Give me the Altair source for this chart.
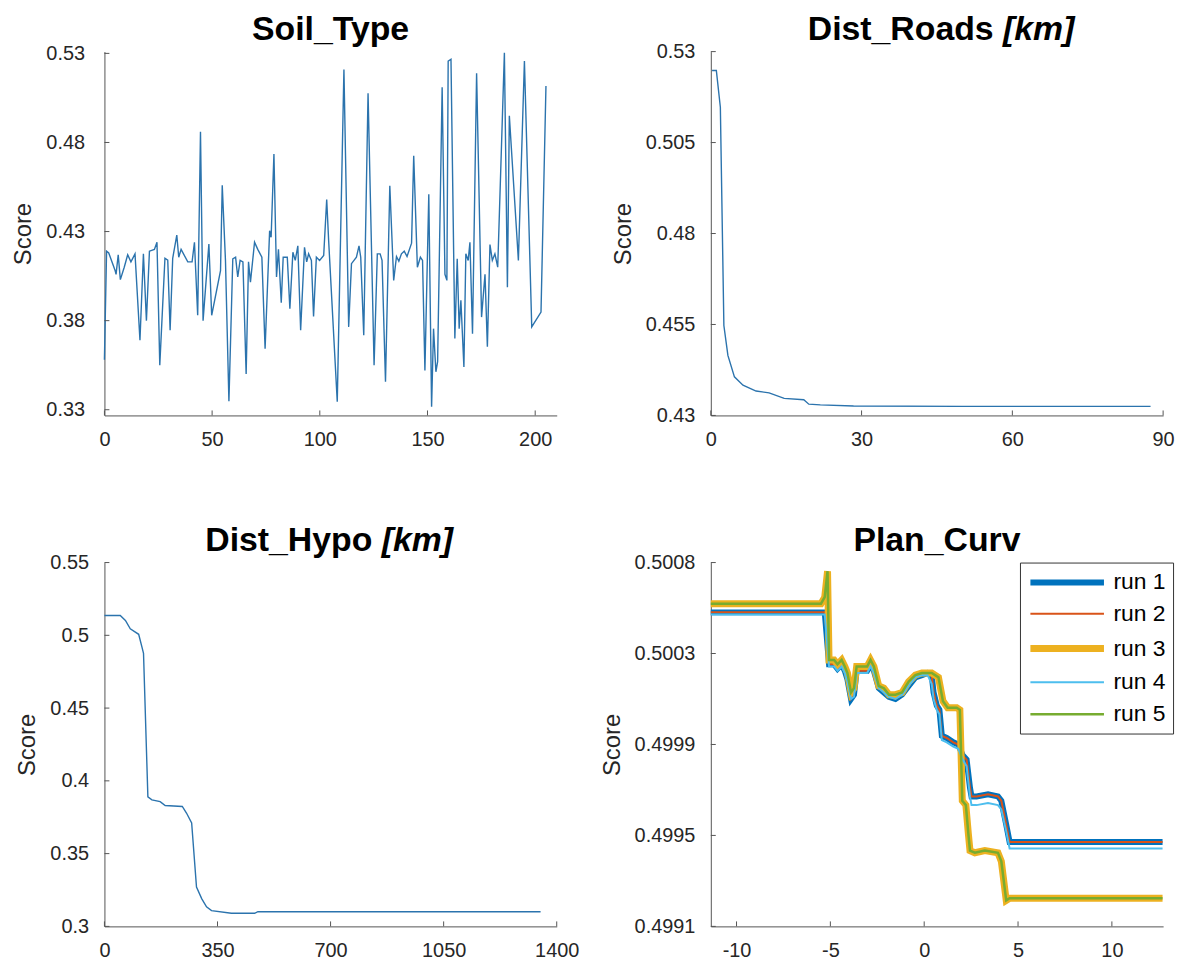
import altair as alt
import pandas as pd

FONT = "Liberation Sans"
W, H = 455, 366
LINE_C = "#2b73ad"
AX_C = "#555555"
TXT_C = "#262626"
TFS = 34  # title font size

# ---------------- Soil_Type ----------------
soil_x = [0, 1, 2, 5, 5.4, 6.4, 7.4, 9.2, 10.8, 12.3, 14.2, 16.5, 18.1, 19.5, 20.9, 23.2, 24.4, 25.7, 28.1, 29.4,
          30.5, 31.7, 33.6, 34.5, 35.6, 38.7, 40.7, 41.8, 43.3, 44.6, 45.8, 48.5, 49.8, 53.9, 54.7, 56.2, 57.8, 59.6, 60.9, 61.9,
          63.0, 64.3, 65.8, 66.9, 67.8, 69.7, 71.2, 73.1, 74.6, 76.7, 77.4, 78.7, 79.9, 80.8, 82.1, 83.0, 84.9, 86.1, 87.5, 88.6,
          89.8, 91.1, 92.9, 93.9, 94.8, 96.1, 97.1, 98.4, 99.9, 101.8, 103.2, 104.1, 108.1, 111.2, 113.4, 114.7, 117.0, 118.2, 119.0, 120.4,
          122.4, 125.2, 126.7, 128.0, 128.9, 130.5, 132.5, 134.3, 135.6, 136.7, 137.9, 139.2, 140.5, 142.6, 143.6, 145.3, 146.7, 147.7, 148.8, 150.6,
          151.9, 152.8, 153.9, 154.7, 156.8, 158.1, 159.0, 159.6, 160.9, 162.7, 163.8, 164.7, 165.5, 166.9, 167.8, 168.9, 169.7, 170.9, 172.8, 175.1,
          176.7, 177.8, 179.0, 180.1, 181.3, 182.6, 185.7, 187.1, 188.0, 192.2, 195.0, 198.4, 202.7, 205.0]
soil_y = [0.358, 0.419, 0.418, 0.408, 0.406, 0.417, 0.403, 0.410, 0.417, 0.413, 0.4175, 0.369, 0.4175, 0.380, 0.419, 0.420, 0.424, 0.355, 0.415, 0.414,
          0.3746, 0.415, 0.428, 0.4156, 0.420, 0.413, 0.413, 0.424, 0.383, 0.486, 0.380, 0.423, 0.383, 0.408, 0.456, 0.4138, 0.3348, 0.4147, 0.4156, 0.4045,
          0.4138, 0.413, 0.350, 0.413, 0.4016, 0.424, 0.420, 0.4156, 0.3643, 0.4305, 0.4268, 0.4735, 0.4045, 0.420, 0.390, 0.4156, 0.4156, 0.3867, 0.4184, 0.4138,
          0.422, 0.3746, 0.4212, 0.413, 0.4175, 0.4138, 0.3824, 0.4156, 0.4138, 0.4166, 0.448, 0.425, 0.3345, 0.521, 0.3765, 0.412, 0.4156, 0.422, 0.4156, 0.3718,
          0.5076, 0.355, 0.4175, 0.4175, 0.4138, 0.3457, 0.4557, 0.4026, 0.416, 0.4134, 0.4175, 0.419, 0.416, 0.4235, 0.4725, 0.410, 0.4156, 0.4138, 0.352, 0.451,
          0.3317, 0.3755, 0.3513, 0.357, 0.511, 0.406, 0.4026, 0.5257, 0.5267, 0.370, 0.4147, 0.3755, 0.3914, 0.354, 0.4175, 0.4138, 0.424, 0.3727, 0.5188, 0.382,
          0.406, 0.3653, 0.4227, 0.4138, 0.4175, 0.410, 0.5304, 0.3988, 0.495, 0.4138, 0.5257, 0.3765, 0.3848, 0.5117]
soil_xticks = [0, 50, 100, 150, 200]
soil_yticks = [0.33, 0.38, 0.43, 0.48, 0.53]

# ---------------- Dist_Roads ----------------
roads_x = [0.25, 1.1, 1.9, 2.6, 3.4, 4.7, 6.4, 9.0, 11.6, 14.6, 18.5, 19.5, 21.8, 28.4, 50, 87.5]
roads_y = [0.5248, 0.5248, 0.5147, 0.4547, 0.4465, 0.4406, 0.4383, 0.4367, 0.4362, 0.4347, 0.4343, 0.4331, 0.4329, 0.4326, 0.4325, 0.4325]
roads_xticks = [0, 30, 60, 90]
roads_yticks = [0.43, 0.455, 0.48, 0.505, 0.53]

# ---------------- Dist_Hypo ----------------
hypo_x = [0, 49, 65, 80, 106, 116, 121, 134.5, 147, 172.5, 188, 241, 254, 270, 285, 301, 316, 331.5, 393, 465, 475, 670, 1350]
hypo_y = [0.5136, 0.5136, 0.5102, 0.5045, 0.5007, 0.4921, 0.4876, 0.389, 0.3869, 0.3857, 0.3831, 0.3824, 0.3779, 0.3711,
          0.327, 0.3191, 0.3135, 0.3108, 0.309, 0.309, 0.3101, 0.3101, 0.3101]
hypo_xticks = [0, 350, 700, 1050, 1400]
hypo_yticks = [0.3, 0.35, 0.4, 0.45, 0.5, 0.55]

# ---------------- Plan_Curv ----------------
curv_xA = [-11.37, -5.5, -5.3, -5.07, -4.8, -4.62, -4.4, -4.23, -4.09, -3.9, -3.74, -3.6, -3.39, -3.04, -2.86, -2.68,
           -2.42, -2.15, -1.88, -1.53, -1.18, -0.83, -0.47, -0.12, 0.18, 0.4, 0.5, 0.67, 0.81, 0.94, 1.2, 1.55, 1.82,
           2.05, 2.26, 2.44, 2.52, 2.79, 3.4, 3.93, 4.11, 4.37, 4.55, 4.73, 12.7]
run1_y = [0.50053, 0.50053, 0.50053, 0.50029, 0.50029, 0.50027, 0.50029, 0.50026, 0.50022, 0.50013, 0.50015, 0.50026, 0.50026,
          0.50026, 0.50029, 0.50026, 0.50018, 0.50016, 0.50014, 0.50013, 0.50015, 0.50019, 0.50023, 0.50024, 0.50025, 0.50024,
          0.50016, 0.50010, 0.50008, 0.49996, 0.49995, 0.49993, 0.49992, 0.49987, 0.49985, 0.49972, 0.49968, 0.49968, 0.49969,
          0.49968, 0.49966, 0.49955, 0.49947, 0.49947, 0.49947]
run2_y = [0.50053, 0.50053, 0.50053, 0.50029, 0.50029, 0.50027, 0.50029, 0.50026, 0.50022, 0.50013, 0.50015, 0.50026, 0.50026,
          0.50026, 0.50029, 0.50026, 0.50018, 0.50016, 0.50014, 0.50013, 0.50015, 0.50019, 0.50023, 0.50024, 0.50025, 0.50024,
          0.50016, 0.50010, 0.50008, 0.49996, 0.49995, 0.49993, 0.49992, 0.49987, 0.49985, 0.49972, 0.49968, 0.49968, 0.49969,
          0.49968, 0.49966, 0.49955, 0.49947, 0.49947, 0.49947]
run4_y = [0.50052, 0.50052, 0.50052, 0.50028, 0.50028, 0.50026, 0.50028, 0.50025, 0.50021, 0.50013, 0.50014, 0.50025, 0.50025,
          0.50025, 0.50028, 0.50025, 0.50018, 0.50016, 0.50014, 0.50013, 0.50015, 0.50019, 0.50023, 0.50024, 0.50024, 0.50020,
          0.50013, 0.50008, 0.50006, 0.49994, 0.49993, 0.49991, 0.49990, 0.49985, 0.49982, 0.49968, 0.49964, 0.49964, 0.49965,
          0.49964, 0.49962, 0.49952, 0.49944, 0.49944, 0.49944]
curv_xB = [-11.37, -5.5, -5.3, -5.15, -5.07, -4.8, -4.62, -4.4, -4.23, -4.09, -3.9, -3.74, -3.6, -3.39, -3.04, -2.86, -2.68,
           -2.42, -2.15, -1.88, -1.53, -1.18, -0.83, -0.47, -0.12, 0.18, 0.4, 0.76, 1.0, 1.25, 1.73, 1.9, 1.96, 2.03, 2.22,
           2.35, 2.44, 2.7, 3.23, 3.93, 4.11, 4.37, 4.55, 12.7]
run3_y = [0.50057, 0.50057, 0.50060, 0.50072, 0.50031, 0.50031, 0.50029, 0.50031, 0.50028, 0.50025, 0.50016, 0.50018, 0.50028,
          0.50028, 0.50028, 0.50031, 0.50028, 0.50019, 0.50018, 0.50015, 0.50015, 0.50016, 0.50021, 0.50024, 0.50025, 0.50025,
          0.50025, 0.50023, 0.50012, 0.50009, 0.50009, 0.50008, 0.49989, 0.49966, 0.49964, 0.49951, 0.49943, 0.49942, 0.49943,
          0.49942, 0.49938, 0.49920, 0.49921, 0.49921]
run5_y = [0.50057, 0.50057, 0.50060, 0.50072, 0.50031, 0.50031, 0.50029, 0.50031, 0.50028, 0.50025, 0.50016, 0.50018, 0.50028,
          0.50028, 0.50028, 0.50031, 0.50028, 0.50019, 0.50018, 0.50015, 0.50015, 0.50016, 0.50021, 0.50024, 0.50025, 0.50025,
          0.50025, 0.50023, 0.50012, 0.50009, 0.50009, 0.50008, 0.49989, 0.49966, 0.49964, 0.49951, 0.49943, 0.49942, 0.49943,
          0.49942, 0.49938, 0.49920, 0.49921, 0.49921]
curv_xticks = [-10, -5, 0, 5, 10]
curv_yticks = [0.49908, 0.4995, 0.49992, 0.50034, 0.50076]
run_names = ["run 1", "run 2", "run 3", "run 4", "run 5"]
run_colors = ["#0072BD", "#D95319", "#EDB120", "#4DBEEE", "#77AC30"]
run_widths = [6, 2, 7, 2, 2.5]


def title_layers(parts):
    if len(parts) == 1:
        t = alt.Chart(pd.DataFrame({"t": [parts[0]]})).mark_text(
            font=FONT, fontSize=TFS, fontWeight="bold", color="black", align="center", baseline="alphabetic"
        ).encode(text="t:N", x=alt.value(W / 2), y=alt.value(-12))
        return [t]
    main, unit, off = parts
    t1 = alt.Chart(pd.DataFrame({"t": [main]})).mark_text(
        font=FONT, fontSize=TFS, fontWeight="bold", color="black", align="right", baseline="alphabetic"
    ).encode(text="t:N", x=alt.value(W / 2 + off), y=alt.value(-12))
    t2 = alt.Chart(pd.DataFrame({"t": [unit]})).mark_text(
        font=FONT, fontSize=TFS, fontWeight="bold", fontStyle="italic", color="black", align="left",
        baseline="alphabetic"
    ).encode(text="t:N", x=alt.value(W / 2 + off + 9.5), y=alt.value(-12))
    return [t1, t2]


def make_panel(line_layer, xdom, xticks, ydom, yticks, yfmt, ylabpad, title_parts):
    xscale = alt.Scale(domain=xdom, nice=False, zero=False)
    yscale = alt.Scale(domain=ydom, nice=False, zero=False)
    xaxis = alt.Axis(values=xticks, title=None, labelExpr="datum.value + ''", labelPadding=14,
                     labelFlush=False, labelOverlap=False)
    yaxis = alt.Axis(values=yticks, format=yfmt, title="Score", labelPadding=ylabpad, titlePadding=10,
                     labelFlush=False, labelOverlap=False)
    X = lambda f: alt.X(f, type="quantitative", scale=xscale, axis=xaxis)
    Y = lambda f: alt.Y(f, type="quantitative", scale=yscale, axis=yaxis)

    lines = line_layer(X, Y)
    yt = alt.Chart(pd.DataFrame({"v": yticks})).mark_rule(color=AX_C, strokeWidth=1).encode(
        y=Y("v"), x=alt.value(0), x2=alt.value(5))
    xt = alt.Chart(pd.DataFrame({"v": xticks})).mark_rule(color=AX_C, strokeWidth=1).encode(
        x=X("v"), y=alt.value(H), y2=alt.value(H - 5))
    layers = [lines, yt, xt] + title_layers(title_parts)
    return alt.layer(*layers).properties(width=W, height=H)


def single(xs, ys):
    df = pd.DataFrame({"x": xs, "y": ys})
    def f(X, Y):
        return alt.Chart(df).mark_line(color=LINE_C, strokeWidth=1.4).encode(x=X("x"), y=Y("y"))
    return f


def multi(X, Y):
    rows = []
    series = [(run_names[0], curv_xA, run1_y), (run_names[1], curv_xA, run2_y), (run_names[2], curv_xB, run3_y),
              (run_names[3], curv_xA, run4_y), (run_names[4], curv_xB, run5_y)]
    for i, (name, xs, ys) in enumerate(series):
        for j, (a, b) in enumerate(zip(xs, ys)):
            rows.append({"run": name, "x": a, "y": b, "k": i * 1000 + j})
    df = pd.DataFrame(rows)
    leg = alt.Legend(orient="none", legendX=921, legendY=514, title=None,
                     symbolType="M-1,0H6.4", symbolSize=400, labelOffset=60,
                     labelFontSize=23, labelFont=FONT, labelColor="black", strokeColor="#333333",
                     fillColor="white", padding=7, rowPadding=8)
    return alt.Chart(df).mark_line().encode(
        x=X("x"), y=Y("y"),
        color=alt.Color("run:N", scale=alt.Scale(domain=run_names, range=run_colors), legend=leg),
        strokeWidth=alt.StrokeWidth("run:N", scale=alt.Scale(type="ordinal", domain=run_names, range=run_widths),
                                    legend=leg),
        order="k:Q",
    )


p1 = make_panel(single(soil_x, soil_y), [0, 210], soil_xticks, [0.3268, 0.531], soil_yticks, ".2f", 20, ["Soil_Type"])
p2 = make_panel(single(roads_x, roads_y), [0, 90], roads_xticks, [0.43, 0.53], roads_yticks, ".3~f", 16,
                ["Dist_Roads", "[km]", 57])
p3 = make_panel(single(hypo_x, hypo_y), [0, 1400], hypo_xticks, [0.3, 0.55], hypo_yticks, ".2~f", 16,
                ["Dist_Hypo", "[km]", 42])
p4 = make_panel(multi, [-11.37, 12.73], curv_xticks, [0.49908, 0.50076], curv_yticks, ".4f", 16, ["Plan_Curv"])

chart = alt.concat(p1, p2, p3, p4, columns=2, spacing={"row": 148, "column": 155}, bounds="flush").properties(
    padding={"left": 4, "top": 2, "right": 5, "bottom": 5}
).configure_view(stroke=None).configure_axis(
    labelFont=FONT, labelFontSize=20, labelColor=TXT_C, titleFont=FONT, titleFontSize=24,
    titleFontWeight="normal", titleColor=TXT_C, domainColor=AX_C, domainWidth=1, grid=False,
    ticks=False, tickSize=0
)

chart.save("out.html", embed_options={"renderer": "svg", "actions": False})
